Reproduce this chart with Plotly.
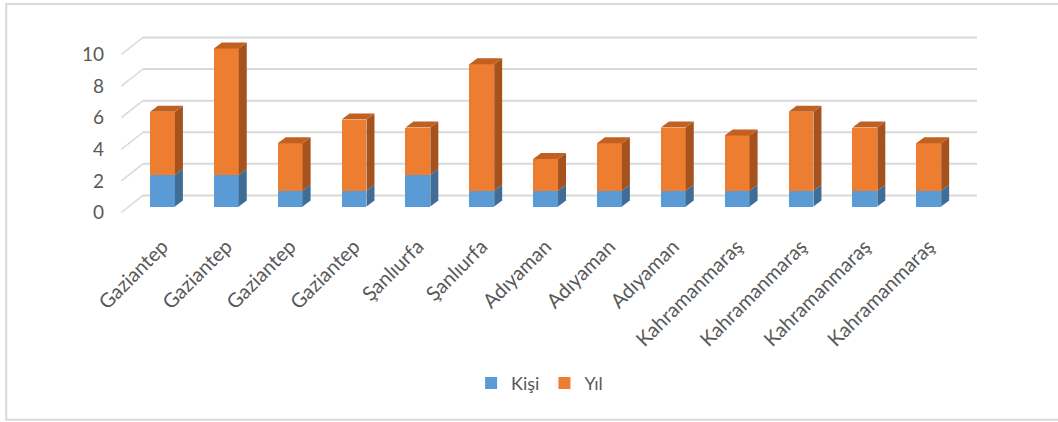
import plotly.graph_objects as go

# ---------------- data ----------------
categories = ["Gaziantep", "Gaziantep", "Gaziantep", "Gaziantep",
              "Şanlıurfa", "Şanlıurfa",
              "Adıyaman", "Adıyaman", "Adıyaman",
              "Kahramanmaraş", "Kahramanmaraş", "Kahramanmaraş", "Kahramanmaraş"]
kisi = [2, 2, 1, 1, 2, 1, 1, 1, 1, 1, 1, 1, 1]
yil = [4, 8, 3, 4.5, 3, 8, 2, 3, 4, 3.5, 5, 4, 3]
y_ticks = [0, 2, 4, 6, 8, 10]

# ---------------- style ----------------
BLUE, BLUE_SIDE = "#5B9BD5", "#3F6D96"
ORANGE, ORANGE_SIDE, ORANGE_TOP = "#ED7D31", "#A5521E", "#C2611F"
GRID = "#D9D9D9"
TEXT = "#595959"
FONT = "Lato"
W = 0.39          # bar width (category units)
DDX = 0.125       # depth offset x (category units)
DDY = 0.38        # depth offset y (value units)
WALL_DY = 0.70    # back wall offset above bar base (value units)
LABEL_DY = 0.38   # front edge offset below bar base (value units)
X0, X1 = -0.305, 12.756
Y0, Y1 = -0.6, 11.17

x = list(range(len(categories)))
fig = go.Figure()

fig.add_trace(go.Bar(x=x, y=kisi, name="Kişi", width=W, marker=dict(color=BLUE, line=dict(width=0))))
fig.add_trace(go.Bar(x=x, y=yil, name="Yıl", width=W, marker=dict(color=ORANGE, line=dict(width=0))))


def side_poly(bases, tops):
    xs, ys = [], []
    for i, (b, t) in enumerate(zip(bases, tops)):
        xr = i + W / 2
        xs += [xr, xr + DDX, xr + DDX, xr, xr, None]
        ys += [b, b + DDY, t + DDY, t, b, None]
    return xs, ys


def top_poly(tops):
    xs, ys = [], []
    for i, t in enumerate(tops):
        xl, xr = i - W / 2, i + W / 2
        xs += [xl, xl + DDX, xr + DDX, xr, xl, None]
        ys += [t, t + DDY, t + DDY, t, t, None]
    return xs, ys


totals = [a + b for a, b in zip(kisi, yil)]
bx, by = side_poly([0] * len(kisi), kisi)
ox, oy = side_poly(kisi, totals)
tx, ty = top_poly(totals)
for xs, ys, c in [(bx, by, BLUE_SIDE), (ox, oy, ORANGE_SIDE), (tx, ty, ORANGE_TOP)]:
    fig.add_trace(go.Scatter(x=xs, y=ys, mode="lines", fill="toself", fillcolor=c,
                             line=dict(width=0, color=c), showlegend=False, hoverinfo="skip"))

# back wall gridlines and side-wall diagonals
shapes = []
for v in y_ticks:
    shapes.append(dict(type="line", xref="paper", yref="y", x0=0, x1=1,
                       y0=v + WALL_DY, y1=v + WALL_DY, line=dict(color=GRID, width=2), layer="below"))
    shapes.append(dict(type="line", xref="paper", yref="y", x0=-0.026, x1=0,
                       y0=v - LABEL_DY, y1=v + WALL_DY, line=dict(color=GRID, width=1.5), layer="below"))
# outer chart border
shapes.append(dict(type="rect", xref="paper", yref="paper", x0=-0.164, x1=1.13,
                   y0=-1.095, y1=1.14, line=dict(color=GRID, width=2), layer="below"))

fig.update_layout(
    width=1058, height=422,
    margin=dict(l=143, r=81, t=30, b=206),
    paper_bgcolor="white", plot_bgcolor="white",
    barmode="stack",
    shapes=shapes,
    font=dict(family=FONT, color=TEXT),
    xaxis=dict(range=[X0, X1], tickvals=x, ticktext=categories, tickangle=-45,
               showgrid=False, zeroline=False, showline=False, ticks="",
               ticklabelstandoff=14,
               tickfont=dict(size=20, color=TEXT, family=FONT)),
    yaxis=dict(range=[Y0, Y1], tickvals=[v - LABEL_DY for v in y_ticks],
               ticktext=[str(v) for v in y_ticks], showgrid=False, zeroline=False,
               showline=False, ticks="", ticklabelstandoff=38,
               tickfont=dict(size=19, color=TEXT, family=FONT)),
    legend=dict(orientation="h", xref="container", yref="container", x=0.51, y=0.092,
                xanchor="center", yanchor="middle", font=dict(size=18, color=TEXT, family=FONT),
                traceorder="normal", itemwidth=30),
    showlegend=True,
)

fig.write_html("out.html")
